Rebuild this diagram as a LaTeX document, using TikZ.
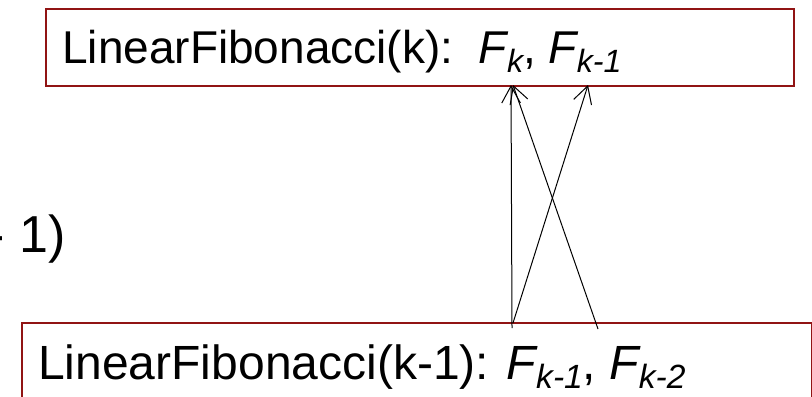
\documentclass[tikz,border=0pt]{standalone}
\usepackage{fontspec}
\setmainfont{Liberation Sans}
\usetikzlibrary{arrows.meta}
\definecolor{boxred}{RGB}{145,20,20}
\newcommand{\Fsub}[1]{\textit{F\raisebox{-0.2em}{\scalebox{0.7}{#1}}}}

\begin{document}
\begin{tikzpicture}[x=0.75pt, y=-0.75pt,
    fibbox/.style={draw=boxred, line width=1.5pt, anchor=north west, inner sep=0pt},
    fibtext/.style={anchor=base west, inner sep=0pt, font=\fontsize{34.5}{40}\selectfont},
    call/.style={-{Straight Barb[length=12.75pt, width=14pt]}, line width=0.75pt}]
  \useasboundingbox (0,0) rectangle (812,396);

  % the two calls
  \node[fibbox, minimum width=561pt, minimum height=57.75pt] (top) at (45,8) {};
  \node[fibtext] (toplabel) at (62,63) {LinearFibonacci(k):\ \ \Fsub{k}, \Fsub{k-1}};
  \node[fibbox, minimum width=592.5pt, minimum height=75pt] (bot) at (21,322) {};
  \node[fibtext, font=\fontsize{36}{42}\selectfont] (botlabel) at (38,379)
    {LinearFibonacci(k-1): \Fsub{k-1}, \Fsub{k-2}};

  % cut-off text on the left
  \node[anchor=base east, inner sep=0pt, font=\fontsize{39}{45}\selectfont] (rest) at (66,252) {- 1)};

  % values handed back up
  \coordinate (FkTop) at (511,85);
  \coordinate (FkTopB) at (513,85);
  \coordinate (Fkm1Top) at (588,85);
  \coordinate (Fkm1Bot) at (512,328);
  \coordinate (Fkm1BotB) at (513,323);
  \coordinate (Fkm2Bot) at (598,329);
  \draw[call] (Fkm1Bot) -- (FkTop);
  \draw[call] (Fkm1BotB) -- (Fkm1Top);
  \draw[call] (Fkm2Bot) -- (FkTopB);
\end{tikzpicture}
\end{document}
